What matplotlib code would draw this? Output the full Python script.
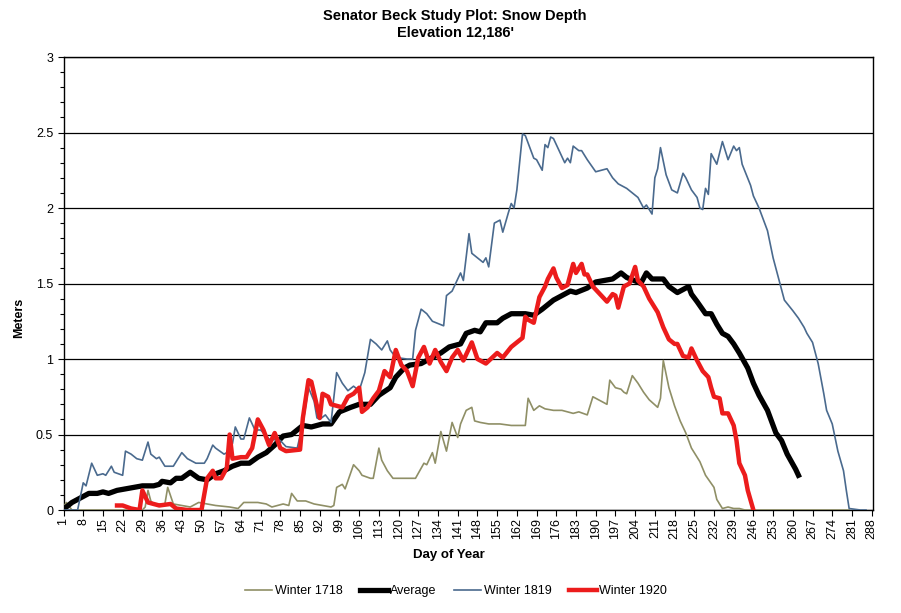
import numpy as np
import matplotlib
matplotlib.use('Agg')
import matplotlib.pyplot as plt
from matplotlib.ticker import MultipleLocator

plt.rcParams['font.family'] = ['Liberation Sans', 'DejaVu Sans']

# Day of year / snow depth (m)
days_1718 = [1, 2, 4, 29, 30, 31, 32, 33, 37, 38, 40, 43, 46, 49, 52, 55, 60, 63, 65, 70,
             73, 75, 79, 81, 82, 84, 87, 90, 93, 96, 97, 98, 100, 101, 104, 106, 107, 110,
             111, 113, 114, 116, 118, 122, 126, 129, 130, 132, 133, 135, 137, 139, 141, 142,
             144, 146, 147, 149, 152, 156, 160, 165, 166, 168, 170, 172, 175, 178, 182, 184,
             187, 189, 191, 194, 195, 197, 199, 200, 201, 203, 205, 207, 209, 212, 213, 214,
             216, 218, 220, 222, 224, 227, 229, 232, 233, 235, 237, 239, 241, 243, 280]
depth_1718 = [0.02, 0.05, 0.0, 0.0, 0.02, 0.13, 0.06, 0.04, 0.04, 0.15, 0.04, 0.03, 0.02, 0.05,
              0.04, 0.03, 0.02, 0.01, 0.05, 0.05, 0.04, 0.02, 0.04, 0.03, 0.11, 0.06, 0.06,
              0.04, 0.03, 0.02, 0.03, 0.15, 0.17, 0.14, 0.30, 0.26, 0.23, 0.21, 0.21, 0.41,
              0.33, 0.26, 0.21, 0.21, 0.21, 0.31, 0.30, 0.38, 0.31, 0.52, 0.39, 0.58, 0.48,
              0.57, 0.66, 0.68, 0.59, 0.58, 0.57, 0.57, 0.56, 0.56, 0.74, 0.66, 0.69, 0.67,
              0.66, 0.66, 0.64, 0.65, 0.63, 0.75, 0.73, 0.70, 0.86, 0.81, 0.80, 0.78, 0.77,
              0.89, 0.84, 0.78, 0.73, 0.68, 0.74, 0.99, 0.81, 0.69, 0.59, 0.51, 0.41, 0.32,
              0.23, 0.15, 0.07, 0.01, 0.02, 0.01, 0.01, 0.0, 0.0]

days_avg = [1, 2, 4, 7, 10, 13, 15, 17, 20, 23, 26, 29, 33, 35, 36, 39, 41, 43, 46, 49, 52,
            55, 58, 61, 64, 67, 70, 73, 76, 79, 82, 86, 89, 93, 96, 99, 103, 106, 110, 113,
            117, 119, 122, 124, 128, 131, 135, 138, 142, 144, 147, 149, 151, 155, 157, 160,
            163, 165, 168, 171, 175, 178, 181, 183, 187, 190, 193, 196, 199, 201, 205, 206,
            208, 210, 214, 216, 219, 223, 224, 226, 229, 231, 233, 235, 237, 239, 241, 244,
            246, 248, 251, 254, 256, 258, 261, 262]
depth_avg = [0.01, 0.02, 0.05, 0.08, 0.11, 0.11, 0.12, 0.11, 0.13, 0.14, 0.15, 0.16, 0.16,
             0.17, 0.19, 0.18, 0.21, 0.21, 0.25, 0.21, 0.20, 0.24, 0.26, 0.29, 0.31, 0.31,
             0.35, 0.38, 0.43, 0.49, 0.50, 0.56, 0.55, 0.57, 0.57, 0.65, 0.68, 0.70, 0.70,
             0.76, 0.81, 0.88, 0.94, 0.96, 0.97, 1.00, 1.04, 1.08, 1.10, 1.17, 1.19, 1.18,
             1.24, 1.24, 1.27, 1.30, 1.30, 1.30, 1.29, 1.33, 1.39, 1.42, 1.45, 1.44, 1.47,
             1.51, 1.52, 1.53, 1.57, 1.54, 1.51, 1.50, 1.57, 1.53, 1.53, 1.48, 1.44, 1.48,
             1.43, 1.38, 1.30, 1.30, 1.23, 1.17, 1.15, 1.10, 1.04, 0.94, 0.84, 0.76, 0.66,
             0.51, 0.46, 0.37, 0.27, 0.23]

days_1819 = [1, 6, 8, 9, 11, 13, 15, 16, 18, 19, 22, 23, 25, 27, 29, 31, 32, 34, 35, 37, 40,
             43, 45, 48, 51, 52, 54, 55, 58, 59, 61, 62, 64, 65, 67, 69, 71, 74, 78, 80, 84,
             86, 88, 90, 91, 92, 94, 96, 98, 100, 102, 104, 106, 108, 110, 112, 114, 116,
             117, 119, 123, 125, 126, 128, 130, 132, 136, 137, 139, 140, 142, 143, 145, 146,
             150, 151, 152, 154, 156, 157, 159, 160, 161, 162, 164, 165, 167, 168, 169, 171,
             172, 173, 174, 175, 177, 179, 180, 181, 182, 184, 185, 187, 190, 194, 196, 198,
             201, 203, 205, 207, 208, 210, 211, 212, 213, 215, 217, 219, 221, 222, 224, 226,
             227, 228, 229, 230, 231, 233, 235, 236, 237, 239, 240, 241, 242, 245, 246, 248,
             251, 253, 255, 257, 260, 262, 264, 265, 267, 269, 271, 272, 274, 276, 278, 279,
             280, 284, 286]
depth_1819 = [0.0, 0.0, 0.18, 0.16, 0.31, 0.23, 0.24, 0.23, 0.29, 0.25, 0.23, 0.39, 0.37,
              0.34, 0.33, 0.45, 0.37, 0.34, 0.35, 0.29, 0.29, 0.38, 0.34, 0.31, 0.31, 0.34,
              0.43, 0.41, 0.37, 0.38, 0.44, 0.55, 0.47, 0.47, 0.61, 0.53, 0.53, 0.47, 0.46,
              0.42, 0.41, 0.57, 0.81, 0.72, 0.61, 0.60, 0.63, 0.58, 0.91, 0.84, 0.79, 0.82,
              0.79, 0.91, 1.13, 1.10, 1.06, 1.12, 1.06, 1.01, 1.00, 1.00, 1.19, 1.33, 1.30,
              1.25, 1.22, 1.42, 1.45, 1.49, 1.57, 1.52, 1.83, 1.70, 1.64, 1.67, 1.61, 1.90,
              1.92, 1.84, 1.97, 2.03, 2.00, 2.12, 2.49, 2.48, 2.38, 2.33, 2.32, 2.25, 2.42,
              2.40, 2.47, 2.46, 2.38, 2.30, 2.33, 2.30, 2.41, 2.38, 2.38, 2.32, 2.24, 2.26,
              2.20, 2.16, 2.13, 2.10, 2.07, 2.00, 2.02, 1.96, 2.20, 2.26, 2.40, 2.22, 2.12,
              2.10, 2.23, 2.20, 2.12, 2.07, 2.00, 1.99, 2.13, 2.09, 2.36, 2.29, 2.44, 2.38,
              2.32, 2.41, 2.38, 2.40, 2.29, 2.15, 2.08, 2.00, 1.85, 1.67, 1.53, 1.39, 1.32,
              1.27, 1.21, 1.17, 1.11, 0.97, 0.77, 0.66, 0.57, 0.39, 0.26, 0.13, 0.01, 0.0, 0.0]

days_1920 = [20, 22, 25, 28, 29, 31, 33, 35, 39, 41, 45, 50, 52, 54, 55, 57, 59, 60, 61, 64,
             66, 68, 70, 72, 74, 76, 78, 80, 85, 86, 88, 89, 91, 92, 93, 95, 96, 98, 100,
             102, 104, 106, 107, 109, 111, 113, 115, 117, 119, 121, 123, 125, 127, 129, 131,
             133, 135, 137, 139, 141, 143, 146, 148, 151, 155, 157, 160, 162, 164, 165, 166,
             168, 170, 172, 173, 175, 176, 178, 180, 182, 183, 185, 186, 187, 189, 192, 194,
             196, 197, 198, 200, 202, 204, 205, 207, 209, 212, 214, 216, 218, 219, 221, 223,
             224, 226, 228, 230, 231, 232, 234, 235, 237, 239, 240, 241, 243, 244, 246]
depth_1920 = [0.03, 0.03, 0.01, 0.0, 0.13, 0.05, 0.04, 0.03, 0.04, 0.01, 0.0, 0.0, 0.21,
              0.26, 0.21, 0.21, 0.28, 0.50, 0.34, 0.35, 0.35, 0.41, 0.60, 0.53, 0.43, 0.51,
              0.41, 0.39, 0.40, 0.61, 0.86, 0.85, 0.69, 0.61, 0.77, 0.75, 0.70, 0.69, 0.68,
              0.75, 0.77, 0.81, 0.65, 0.68, 0.74, 0.79, 0.92, 0.88, 1.06, 0.96, 0.92, 0.82,
              1.01, 1.08, 0.97, 1.06, 0.98, 0.92, 1.01, 1.06, 0.99, 1.11, 1.00, 0.97, 1.04,
              1.01, 1.08, 1.11, 1.14, 1.28, 1.26, 1.24, 1.41, 1.48, 1.53, 1.60, 1.54, 1.47,
              1.49, 1.63, 1.57, 1.63, 1.56, 1.56, 1.48, 1.42, 1.38, 1.43, 1.42, 1.34, 1.48,
              1.50, 1.61, 1.52, 1.48, 1.40, 1.31, 1.21, 1.13, 1.10, 1.10, 1.02, 1.01, 1.07,
              0.99, 0.92, 0.88, 0.81, 0.75, 0.74, 0.64, 0.64, 0.56, 0.46, 0.31, 0.23, 0.13,
              0.0]

tick_days = list(range(1, 289, 7))
y_ticks = [0, 0.5, 1, 1.5, 2, 2.5, 3]
y_labels = ['0', '0.5', '1', '1.5', '2', '2.5', '3']

fig = plt.figure(figsize=(9.01, 6.13), dpi=100)
ax = fig.add_axes([0.0705, 0.168, 0.8985, 0.739])

ax.plot(days_1718, depth_1718, color='#8f8f66', lw=1.2, label='Winter 1718', zorder=3)
ax.plot(days_avg, depth_avg, color='black', lw=3.8, label='Average', zorder=4)
ax.plot(days_1819, depth_1819, color='#4a6a8e', lw=1.2, label='Winter 1819', zorder=5)
ax.plot(days_1920, depth_1920, color='#ec1c1c', lw=3.2, label='Winter 1920', zorder=6)

ax.set_xlim(1, 288.5)
ax.set_ylim(0, 3)
ax.set_xticks(tick_days)
ax.set_xticklabels([str(d) for d in tick_days], rotation=90, fontsize=9)
ax.set_yticks(y_ticks)
ax.set_yticklabels(y_labels, fontsize=9)
ax.yaxis.set_minor_locator(MultipleLocator(0.1))
ax.tick_params(axis='both', which='major', direction='out', length=4, width=0.8)
ax.tick_params(axis='y', which='minor', direction='out', length=3, width=0.8)
ax.tick_params(axis='x', pad=2)
ax.grid(axis='y', which='major', color='black', lw=0.9)
for s in ax.spines.values():
    s.set_color('black')
    s.set_linewidth(1.0)

ax.set_xlabel('Day of Year', fontsize=9.5, fontweight='bold')
ax.xaxis.set_label_coords(0.476, -0.085)
ax.set_ylabel('Meters', fontsize=9, fontweight='bold')
ax.yaxis.set_label_coords(-0.048, 0.424)

fig.text(0.505, 1 - 9 / 613, 'Senator Beck Study Plot: Snow Depth\nElevation 12,186\'',
         ha='center', va='top', fontsize=10.5, fontweight='bold', linespacing=1.25)

fig.legend(loc='center', bbox_to_anchor=(456 / 901, 1 - 591 / 613), ncol=4, frameon=False,
           fontsize=9, handlelength=2.2, handletextpad=0.2, columnspacing=1.4)

fig.savefig('out.png', dpi=100)
